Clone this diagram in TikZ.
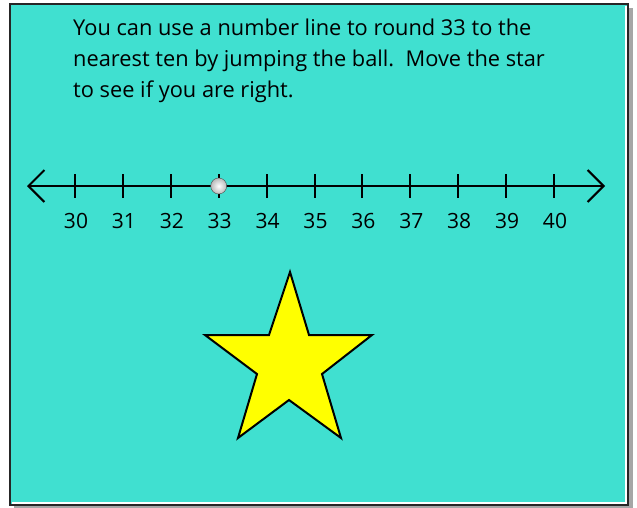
\documentclass[tikz,border=0pt]{standalone}
\usepackage{fontspec}
\setmainfont{Open Sans}
\usetikzlibrary{arrows.meta}
\definecolor{panel}{RGB}{64,224,208}
\definecolor{staryellow}{RGB}{255,255,0}
\tikzset{barb/.tip={Straight Barb[length=16pt, width=32pt]}}

\begin{document}
\begin{tikzpicture}[x=1pt, y=-1pt,
  tick/.style={line width=2pt},
  numlabel/.style={font=\fontsize{21}{21}\selectfont, anchor=base, inner sep=0pt},
  prompt/.style={font=\fontsize{21.8}{22}\selectfont, anchor=base west, inner sep=0pt}]
  \useasboundingbox (0,0) rectangle (637,508);
  % Panel with its drop shadow
  \fill[gray!70] (14,8) rectangle (633,508);
  \fill[panel] (10,4) rectangle (628,505);
  \draw[white, line width=2pt] (625.5,6) -- (625.5,502.5) -- (12,502.5);
  \draw[black!85, line width=2pt] (10,4) rectangle (628,505);
  % Prompt
  \node[prompt] (line1) at (73,36) {You can use a number line to round 33 to the};
  \node[prompt] (line2) at (73,67) {nearest ten by jumping the ball.\ \ Move the star};
  \node[prompt] (line3) at (73,98) {to see if you are right.};
  % Number line with ticks 30 to 40
  \coordinate (lend) at (27,186);
  \coordinate (rend) at (605,186);
  \draw[line width=2pt, barb-barb] (lend) -- (rend);
  \foreach \n [count=\i from 0] in {30,...,40} {
    \coordinate (t\n) at (75+47.9*\i,186);
    \draw[tick] (75+47.9*\i,174) -- (75+47.9*\i,198);
    \node[numlabel] (n\n) at (76+47.9*\i,228) {\n};
  }
  % The ball sits on 33
  \node[circle, minimum size=16pt, inner sep=0pt, draw=black!70,
    inner color=white, outer color=gray!55] (ball) at (t33) {};
  % Star
  \filldraw[fill=staryellow, line width=2pt]
    (290,272) -- (309,335) -- (372,335) -- (322,374) -- (341,438)
    -- (289,400) -- (238,438) -- (257,374) -- (205,335) -- (269,335) -- cycle;
\end{tikzpicture}
\end{document}
